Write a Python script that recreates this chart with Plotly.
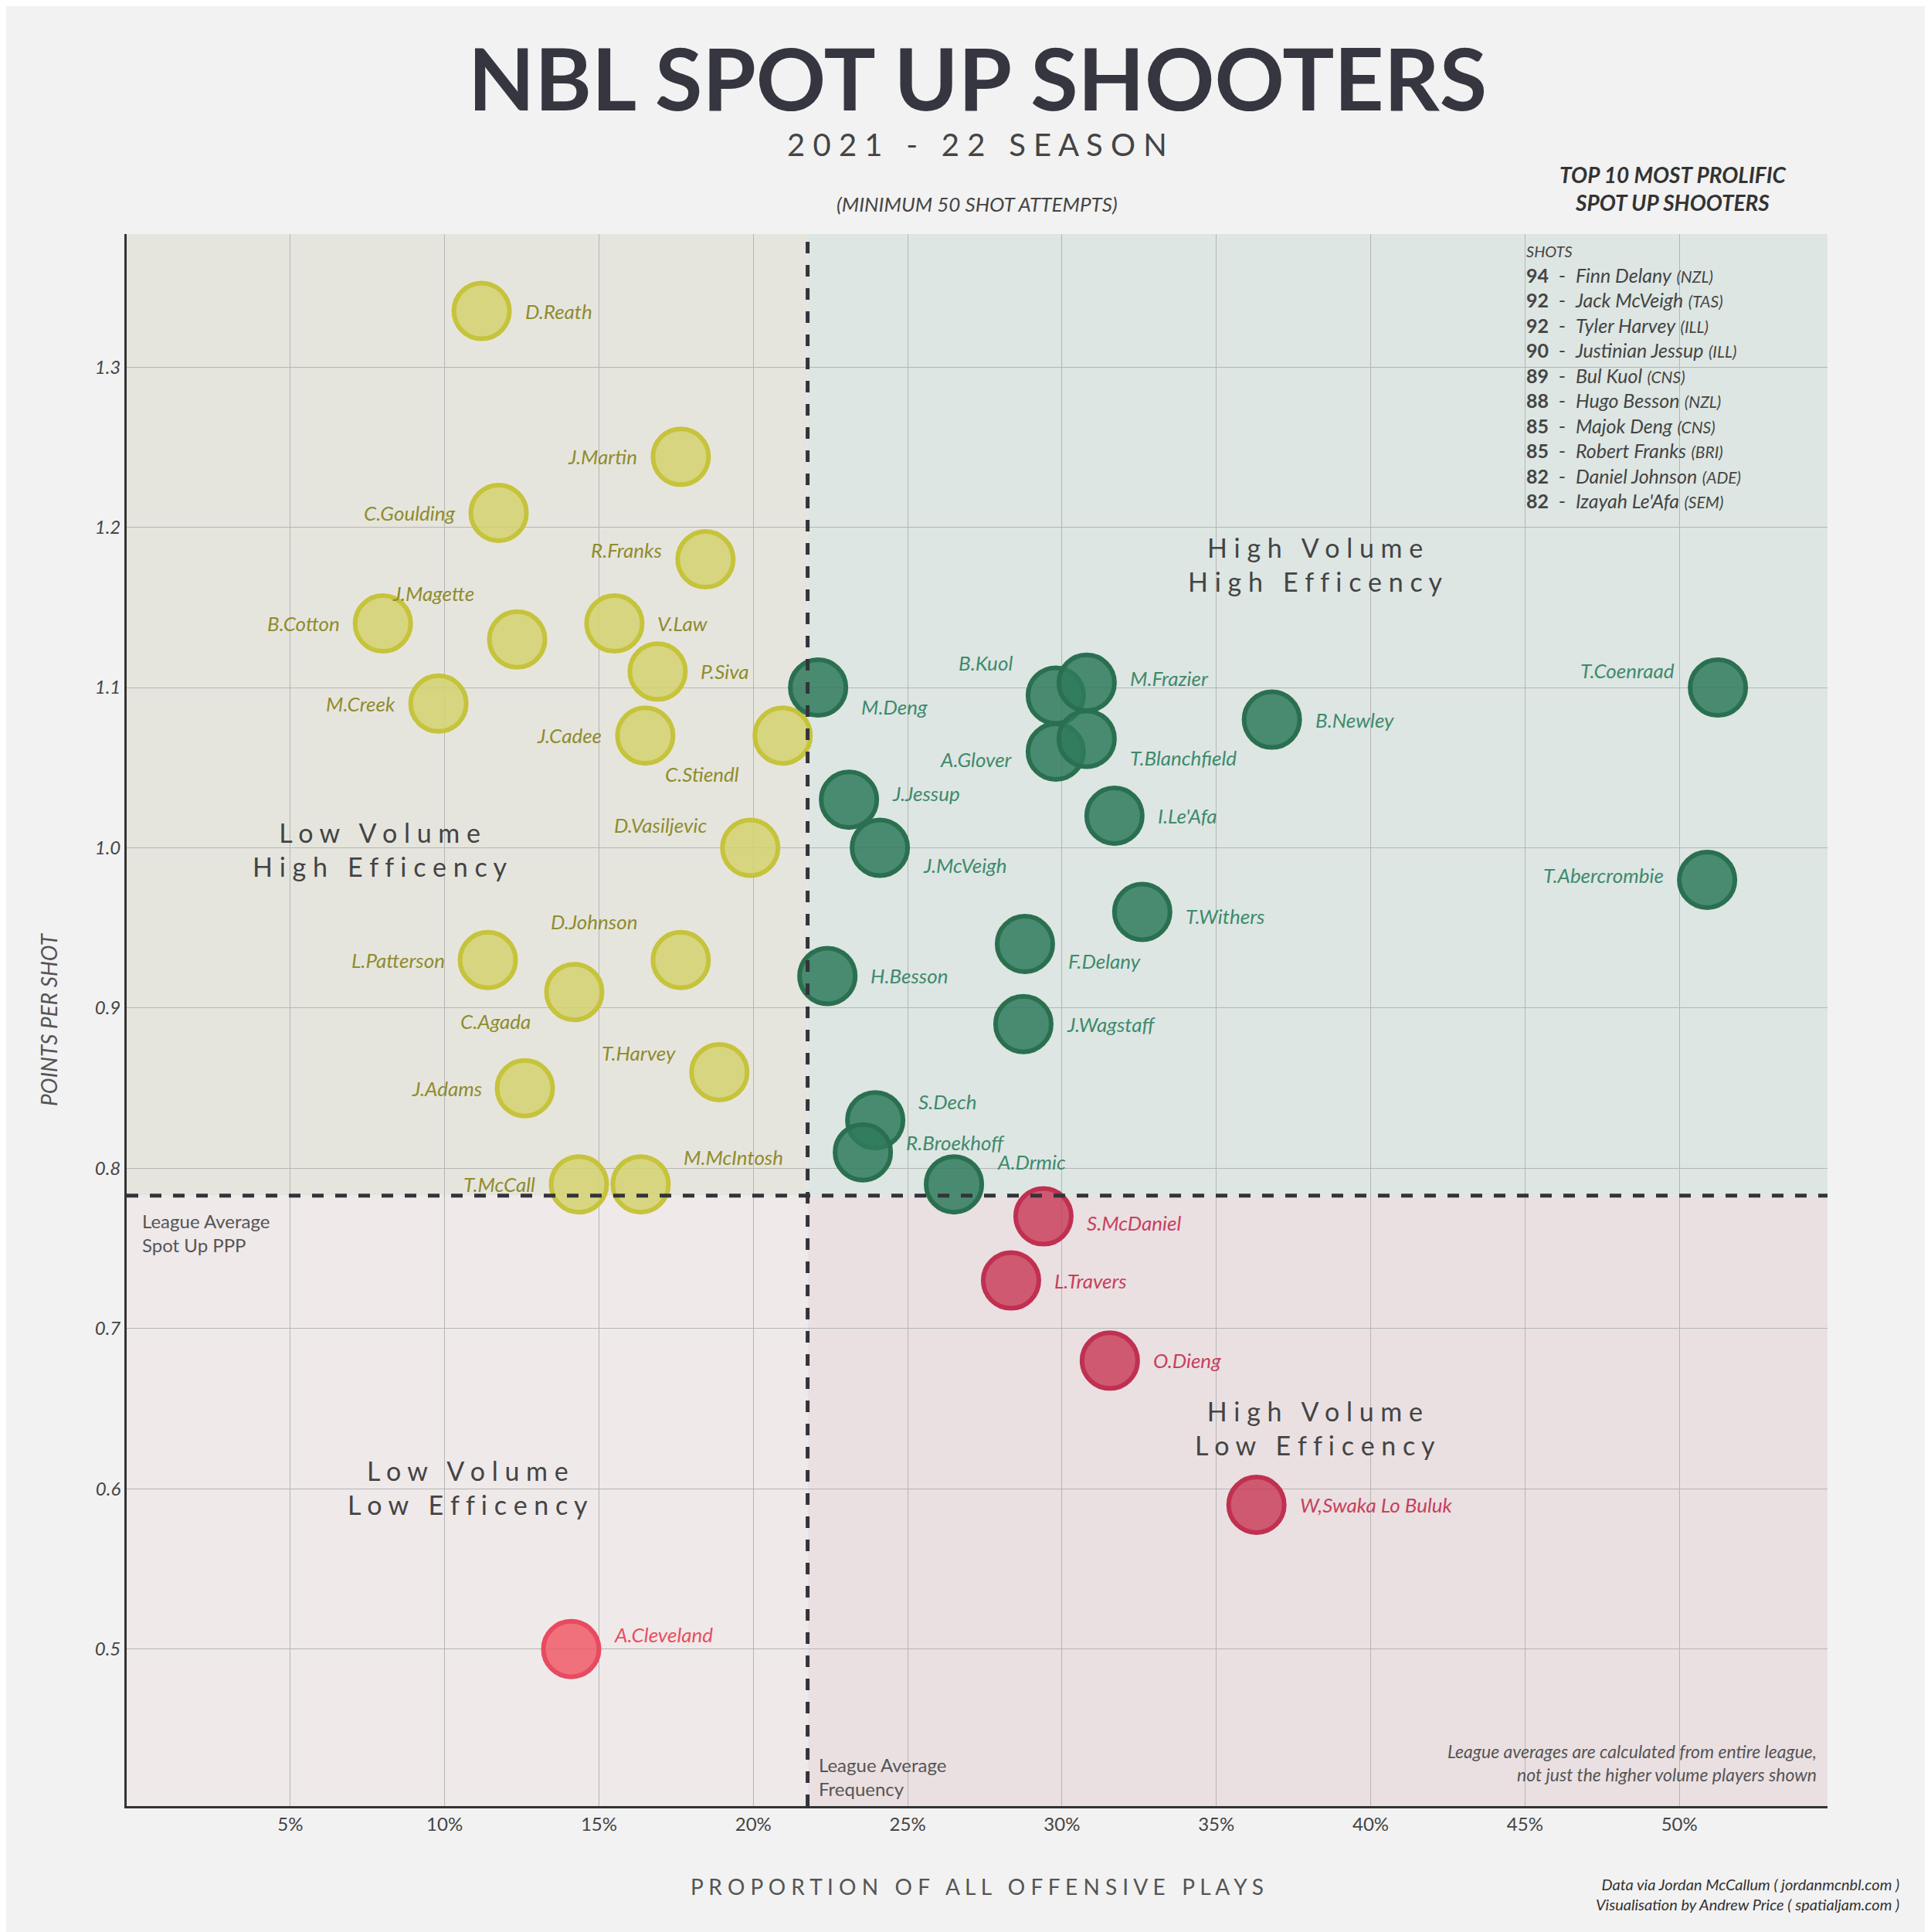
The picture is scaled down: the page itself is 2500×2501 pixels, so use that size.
import plotly.graph_objects as go

names = ["D.Reath","J.Martin","C.Goulding","R.Franks","B.Cotton","J.Magette","V.Law","P.Siva","M.Creek","J.Cadee","C.Stiendl","D.Vasiljevic","D.Johnson","L.Patterson","C.Agada","T.Harvey","J.Adams","T.McCall","M.McIntosh",
         "M.Deng","B.Kuol","M.Frazier","B.Newley","T.Coenraad","A.Glover","T.Blanchfield","J.Jessup","I.Le'Afa","J.McVeigh","T.Abercrombie","T.Withers","F.Delany","H.Besson","J.Wagstaff","S.Dech","R.Broekhoff","A.Drmic",
         "S.McDaniel","L.Travers","O.Dieng","W,Swaka Lo Buluk","A.Cleveland"]
freq = [11.2,17.65,11.75,18.45,8.0,12.35,15.5,16.9,9.8,16.5,20.95,19.9,17.65,11.4,14.2,18.9,12.6,14.35,16.35,
        22.1,29.8,30.8,36.8,51.25,29.8,30.8,23.1,31.7,24.1,50.9,32.6,28.8,22.4,28.75,23.95,23.55,26.5,
        29.4,28.35,31.55,36.3,14.1]
ppp = [1.335,1.244,1.209,1.18,1.14,1.13,1.14,1.11,1.09,1.07,1.07,1.0,0.93,0.93,0.91,0.86,0.85,0.79,0.79,
       1.10,1.095,1.103,1.08,1.10,1.06,1.068,1.03,1.02,1.0,0.98,0.96,0.94,0.92,0.89,0.83,0.81,0.79,
       0.77,0.73,0.68,0.59,0.50]
group = ["Y"]*19 + ["G"]*18 + ["R"]*4 + ["L"]
# label side and vertical shift (px)
side = ["r","l","l","l","l","l","r","r","l","l","l","l","l","l","l","l","l","l","r",
        "r","l","r","r","l","l","r","r","r","r","l","r","r","r","r","r","r","r",
        "r","r","r","r","r"]
dy = [0,0,0,12,0,60,0,0,0,0,-50,30,50,0,-38,25,0,0,35,
      -25,42,6,0,22,-10,-25,8,0,-22,6,-6,-22,0,0,24,13,29,
      -8,0,0,0,19]

avg_freq = 21.76
avg_ppp = 0.783
top10_shots = [94,92,92,90,89,88,85,85,82,82]
top10_names = ["Finn Delany","Jack McVeigh","Tyler Harvey","Justinian Jessup","Bul Kuol","Hugo Besson","Majok Deng","Robert Franks","Daniel Johnson","Izayah Le'Afa"]
top10_teams = ["NZL","TAS","ILL","ILL","CNS","NZL","CNS","BRI","ADE","SEM"]

fill = {"Y":"rgba(212,210,110,0.85)","G":"rgba(47,122,92,0.85)","R":"rgba(200,55,85,0.8)","L":"rgba(240,90,105,0.85)"}
line = {"Y":"#c6c33c","G":"#2a7050","R":"#c03050","L":"#e84a5f"}
tcol = {"Y":"#8f8c2e","G":"#3f8a6c","R":"#c8405c","L":"#e8505f"}
FONT = "Lato"

XMIN, XMAX, YMIN, YMAX = -0.3, 54.8, 0.402, 1.383
fig = go.Figure()
for g in ["Y","G","R","L"]:
    idx = [i for i in range(len(names)) if group[i]==g]
    fig.add_trace(go.Scatter(
        x=[freq[i] for i in idx], y=[ppp[i] for i in idx], mode="markers",
        marker=dict(size=72, color=fill[g], line=dict(color=line[g], width=6)),
        showlegend=False, cliponaxis=False, hoverinfo="skip"))

shapes = [
    dict(type="rect", xref="x", yref="y", x0=XMIN, x1=avg_freq, y0=avg_ppp, y1=YMAX, fillcolor="#e6e5dd", line_width=0, layer="below"),
    dict(type="rect", xref="x", yref="y", x0=avg_freq, x1=XMAX, y0=avg_ppp, y1=YMAX, fillcolor="#dde6e3", line_width=0, layer="below"),
    dict(type="rect", xref="x", yref="y", x0=XMIN, x1=avg_freq, y0=YMIN, y1=avg_ppp, fillcolor="#efe9ea", line_width=0, layer="below"),
    dict(type="rect", xref="x", yref="y", x0=avg_freq, x1=XMAX, y0=YMIN, y1=avg_ppp, fillcolor="#eae0e2", line_width=0, layer="below"),
    dict(type="line", xref="x", yref="y", x0=avg_freq, x1=avg_freq, y0=YMIN, y1=YMAX, line=dict(color="#33333b", width=5, dash="dash")),
    dict(type="line", xref="x", yref="y", x0=XMIN, x1=XMAX, y0=avg_ppp, y1=avg_ppp, line=dict(color="#33333b", width=5, dash="dash")),
]

ann = []
def A(text, x, y, size, color="#444", xref="paper", yref="paper", xa="center", ya="middle", align="center", xshift=0, yshift=0, **kw):
    ann.append(dict(text=text, x=x, y=y, xref=xref, yref=yref, xanchor=xa, yanchor=ya, align=align, showarrow=False,
                    xshift=xshift, yshift=yshift, font=dict(family=FONT, size=size, color=color, **kw)))

for i in range(len(names)):
    r = side[i] == "r"
    A(names[i], freq[i], ppp[i], 26, tcol[group[i]], xref="x", yref="y", xa="left" if r else "right",
      xshift=54 if r else -54, yshift=dy[i], style="italic")

A("<b>NBL SPOT UP SHOOTERS</b>", 0.5, 1.100, 112, "#363640")
A("2 0 2 1   -   2 2   S E A S O N", 0.5, 1.057, 40, "#444")
A("(MINIMUM 50 SHOT ATTEMPTS)", 0.5, 1.019, 26, "#444", style="italic")
A("<b>TOP 10 MOST PROLIFIC<br>SPOT UP SHOOTERS</b>", 0.909, 1.029, 28, "#333", style="italic")
lines = ["<span style='font-size:20px'><i>SHOTS</i></span>"] + [
    f"<b>{s}</b>  -  <i>{n}</i> <span style='font-size:21px'><i>({t})</i></span>" for s,n,t in zip(top10_shots, top10_names, top10_teams)]
A("<br>".join(lines), 0.822, 0.996, 25, "#444", xa="left", ya="top", align="left")
A("H i g h   V o l u m e<br>H i g h   E f f i c e n c y", 38.2, 1.177, 34, "#444", xref="x", yref="y")
A("L o w   V o l u m e<br>H i g h   E f f i c e n c y", 7.9, 0.999, 34, "#444", xref="x", yref="y")
A("H i g h   V o l u m e<br>L o w   E f f i c e n c y", 38.2, 0.638, 34, "#444", xref="x", yref="y")
A("L o w   V o l u m e<br>L o w   E f f i c e n c y", 10.75, 0.601, 34, "#444", xref="x", yref="y")
A("League Average<br>Spot Up PPP", 0.15, avg_ppp - 0.008, 24, "#555", xref="x", yref="y", xa="left", ya="top", align="left")
A("League Average<br>Frequency", avg_freq + 0.3, YMIN + 0.003, 24, "#555", xref="x", yref="y", xa="left", ya="bottom", align="left")
A("<i>League averages are calculated from entire league,<br>not just the higher volume players shown</i>", 54.5, YMIN + 0.012, 23, "#555", xref="x", yref="y", xa="right", ya="bottom", align="right")
A("<i>Data via Jordan McCallum ( jordanmcnbl.com )<br>Visualisation by Andrew Price ( spatialjam.com )</i>", 1.043, -0.056, 20, "#333", xa="right", ya="middle", align="right")

xt = [5,10,15,20,25,30,35,40,45,50]
yt = [0.5,0.6,0.7,0.8,0.9,1.0,1.1,1.2,1.3]
fig.update_layout(
    width=2500, height=2501, paper_bgcolor="#f2f2f2", plot_bgcolor="#f2f2f2",
    margin=dict(l=156, r=142, t=295, b=171),
    shapes=shapes, annotations=ann,
    xaxis=dict(range=[XMIN, XMAX], tickvals=xt, ticktext=[f"{v}%" for v in xt],
               showgrid=True, gridcolor="#b5b5b5", gridwidth=1, zeroline=False,
               showline=True, linecolor="#333", linewidth=3, ticks="",
               tickfont=dict(family=FONT, size=24, color="#444"),
               title=dict(text="P R O P O R T I O N   O F   A L L   O F F E N S I V E   P L A Y S", font=dict(family=FONT, size=28, color="#555"), standoff=60)),
    yaxis=dict(range=[YMIN, YMAX], tickvals=yt, ticktext=[f"{v:.1f}" for v in yt],
               showgrid=True, gridcolor="#b5b5b5", gridwidth=1, zeroline=False,
               showline=True, linecolor="#333", linewidth=3, ticks="",
               tickfont=dict(family=FONT, size=24, color="#444", style="italic"),
               title=dict(text="POINTS PER SHOT", font=dict(family=FONT, size=28, color="#555", style="italic"), standoff=40)),
)
fig.write_html("out.html")
